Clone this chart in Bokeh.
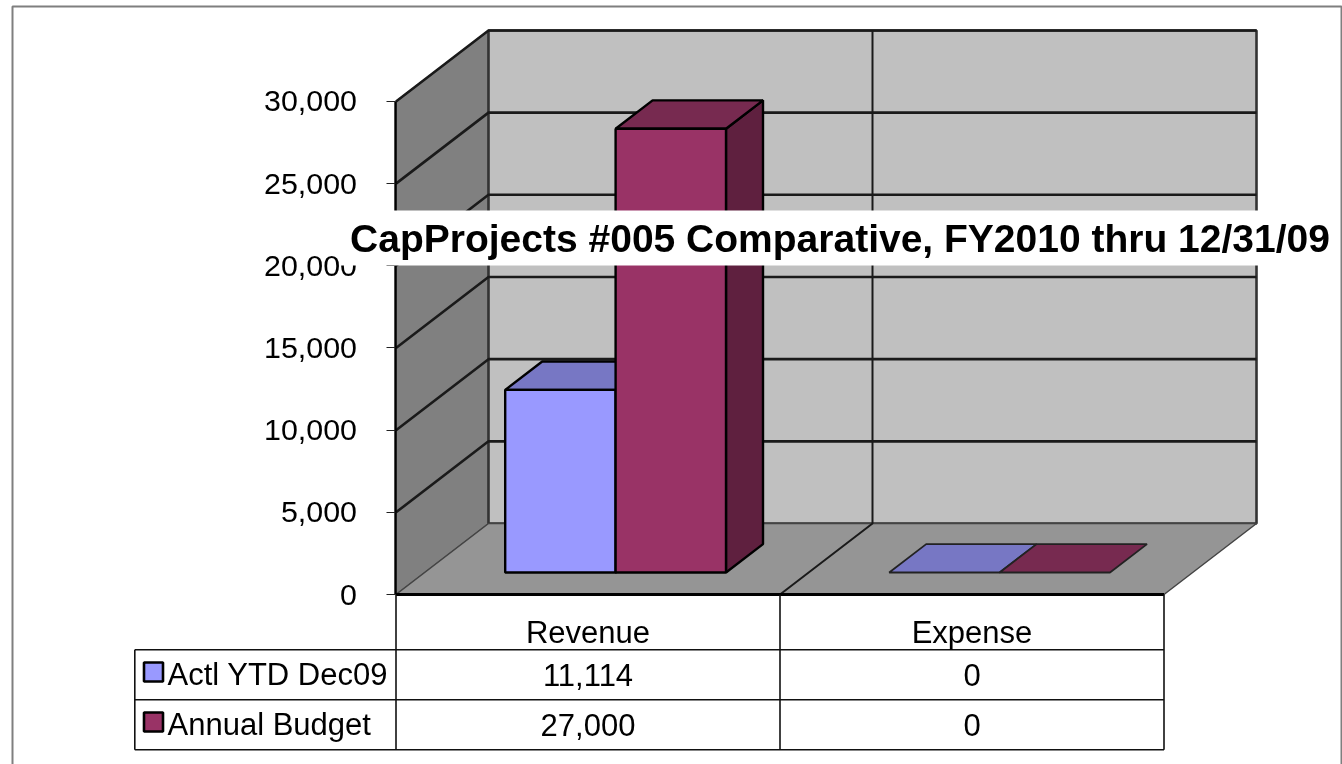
from bokeh.plotting import figure
from bokeh.models import FixedTicker, Label, LinearAxis, NumeralTickFormatter
from bokeh.core.properties import value
from bokeh.embed import file_html
from bokeh.resources import INLINE

# ---- data
title = "CapProjects #005 Comparative, FY2010 thru 12/31/09"
categories = ["Revenue", "Expense"]
series_names = ["Actl YTD Dec09", "Annual Budget"]
actual = [11114, 0]
budget = [27000, 0]
y_ticks = [0, 5000, 10000, 15000, 20000, 25000, 30000]

# ---- colours
front_colors = ["#9999FF", "#993366"]
top_colors = ["#7777C4", "#772A50"]
side_colors = ["#5F5F9E", "#5F203F"]
FONT = "Liberation Sans"

# ---- oblique projection: page-pixel x, value y
W, H = 1342, 764
X0, CAT_W = 395.5, 384.0
Y0_PX, PX_PER_5000 = 594.0, 82.17
DX, DY = 92.5, 71.0
U = 5000.0 / PX_PER_5000           # value units per pixel
YMAX = 30000


def val(px):
    return (Y0_PX - px) * U


def proj(cat, v, depth=0.0):
    return (X0 + cat * CAT_W + depth * DX, v + depth * DY * U)


def poly(*pts):
    return [proj(*q)[0] for q in pts], [proj(*q)[1] for q in pts]


p = figure(width=W, height=H, x_range=(0, W), y_range=(val(H), val(0)),
           x_axis_location=None, y_axis_location=None, toolbar_location=None,
           output_backend="svg", min_border=0, outline_line_color=None,
           styles={"position": "fixed", "left": "0px", "top": "0px"})
p.grid.visible = False

# outer chart frame
p.line([12, 12, 1341, 1341], [val(H), val(6), val(6), val(H)], line_color="#7F7F7F", line_width=2)

n = len(categories)
# walls and floor
x, y = poly((0, 0, 0), (0, YMAX, 0), (0, YMAX, 1), (0, 0, 1))
p.patch(x, y, fill_color="#808080", line_color="#555555", line_width=1.5)
x, y = poly((0, 0, 1), (0, YMAX, 1), (n, YMAX, 1), (n, 0, 1))
p.patch(x, y, fill_color="#C0C0C0", line_color="#333333", line_width=2.6)
x, y = poly((0, 0, 0), (n, 0, 0), (n, 0, 1), (0, 0, 1))
p.patch(x, y, fill_color="#959595", line_color="#444444", line_width=1.5)

# gridlines on side and back walls
for t in y_ticks[1:]:
    x, y = poly((0, t, 0), (0, t, 1), (n, t, 1))
    p.line(x, y, line_color="#1A1A1A", line_width=2.6)
for c in range(1, n):
    x, y = poly((c, 0, 0), (c, 0, 1), (c, YMAX, 1))
    p.line(x, y, line_color="#1A1A1A", line_width=2)

# bars
D0, D1 = 0.31, 0.71
BAR_L, BAR_W = 0.2097, 0.2875
for s, vals in enumerate([actual, budget]):
    for c, v in enumerate(vals):
        a = c + BAR_L + s * BAR_W
        b = a + BAR_W
        x, y = poly((b, 0, D0), (b, v, D0), (b, v, D1), (b, 0, D1))
        if v:
            p.patch(x, y, fill_color=side_colors[s], line_color="black", line_width=2.4)
        x, y = poly((a, v, D0), (b, v, D0), (b, v, D1), (a, v, D1))
        p.patch(x, y, fill_color=top_colors[s], line_color="black" if v else "#222222", line_width=2.4 if v else 1.8)
        if v:
            x, y = poly((a, 0, D0), (b, 0, D0), (b, v, D0), (a, v, D0))
            p.patch(x, y, fill_color=front_colors[s], line_color="black", line_width=2.4)

# table rules
TB_L = 134.3
rows_px = [649.3, 699.3, 749.3]
p.line([X0, X0 + n * CAT_W], [0, 0], line_color="black", line_width=3)
for r in rows_px:
    p.line([TB_L, X0 + n * CAT_W], [val(r), val(r)], line_color="#111111", line_width=1.6)
p.line([TB_L, TB_L], [val(rows_px[0]), val(rows_px[-1])], line_color="#111111", line_width=1.6)
for c in range(n + 1):
    xx = X0 + c * CAT_W
    p.line([xx, xx], [0, val(rows_px[-1])], line_color="#111111", line_width=1.6)

# table text
FS = "31px"
cat_x = [X0 + (i + 0.5) * CAT_W for i in range(n)]
p.text(cat_x, [val(632)] * n, text=categories, text_align="center", text_baseline="middle",
       text_font=value(FONT), text_font_size=FS, text_color="black")
for s, (vals, r) in enumerate(zip([actual, budget], [674, 724])):
    p.text(cat_x, [val(r)] * n, text=[f"{v:,}" for v in vals], text_align="center", text_baseline="middle",
           text_font=value(FONT), text_font_size=FS, text_color="black")
    p.text([167], [val(r)], text=[series_names[s]], text_align="left", text_baseline="middle",
           text_font=value(FONT), text_font_size=FS, text_color="black")
    p.quad(left=[143.5], right=[162.5], top=[val(r - 12)], bottom=[val(r + 7)],
           fill_color=front_colors[s], line_color="black", line_width=2.6)

# value axis on the front-left edge
ax = LinearAxis(fixed_location=X0 - 1, bounds=(0, YMAX), ticker=FixedTicker(ticks=y_ticks),
                formatter=NumeralTickFormatter(format="0,0"))
ax.major_tick_in = 0
ax.major_tick_out = 9
ax.minor_tick_out = 0
ax.minor_tick_in = 0
ax.major_tick_line_color = "#222222"
ax.axis_line_color = "black"
ax.axis_line_width = 2.4
ax.major_label_standoff = 29
ax.major_label_text_font = FONT
ax.major_label_text_font_size = "30.4px"
ax.major_label_text_color = "black"
p.add_layout(ax, "left")

# title sits over the plot on a white band
p.add_layout(Label(x=839.5, y=val(237.5), text=title, text_align="center", text_baseline="middle",
                   text_font=FONT, text_font_size="39px", text_font_style="bold", text_color="black",
                   background_fill_color="white", padding=(10, 6)))

open("out.html", "w").write(file_html(p, INLINE))
